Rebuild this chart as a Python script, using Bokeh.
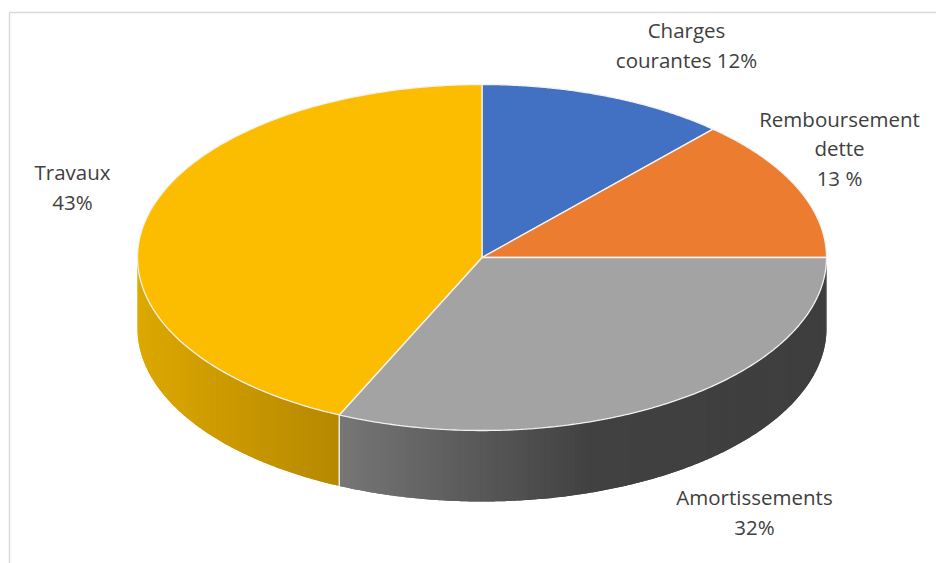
from math import sin, cos, pi
import numpy as np
from bokeh.plotting import figure
from bokeh.models import Range1d, ColumnDataSource
from bokeh.core.properties import value
from bokeh.embed import file_html
from bokeh.resources import INLINE

# --- data ---
categories = ["Charges courantes", "Remboursement dette", "Amortissements", "Travaux"]
# slice sizes (the printed labels are rounded)
shares = [11.7, 13.3, 31.8, 43.2]
top_colors = ["#4270C2", "#EB7C30", "#A3A3A3", "#FCBD00"]
label_lines = [["Charges", "courantes 12%"], ["Remboursement", "dette", "13 %"],
               ["Amortissements", "32%"], ["Travaux", "43%"]]

# --- layout (page pixels) ---
W, H = 936, 563
CX, CY, RX, RY, DEPTH = 481.5, 257.0, 344.5, 173.0, 71.0
label_x = [686, 839, 754, 72]
label_y = [[29, 59], [118, 147, 177], [496, 526], [171, 201]]
side_stops = {
    "Amortissements": [(340, (0x76, 0x76, 0x76)), (470, (0x5A, 0x5A, 0x5A)), (590, (0x41, 0x41, 0x41)), (826, (0x3E, 0x3E, 0x3E))],
    "Travaux": [(137, (0xDC, 0xA8, 0x00)), (340, (0xB6, 0x88, 0x00))],
}

p = figure(width=W, height=H, output_backend="svg", toolbar_location=None,
           x_range=Range1d(0, W), y_range=Range1d(H, 0),
           min_border=0, outline_line_color=None, background_fill_color="white",
           border_fill_color="white")
p.axis.visible = False
p.grid.visible = False

# frame
p.line([9, W], [12, 12], line_color="#D9D9D9", line_width=1.5)
p.line([9, 9], [12, H], line_color="#D9D9D9", line_width=1.5)


def point(frac, dy=0.0):
    t = 2 * pi * frac
    return CX + RX * sin(t), CY - RY * cos(t) + dy


def hexcol(rgb):
    return "#%02X%02X%02X" % tuple(int(round(c)) for c in rgb)


total = float(sum(shares))
edges = np.cumsum([0] + shares) / total

# side wall: strips overlap the next one, which paints over it, so no seams show
xs, ys, cols = [], [], []
for i, name in enumerate(categories):
    if name not in side_stops:
        continue
    a, b = max(edges[i], 0.25), min(edges[i + 1], 0.75)
    stops = side_stops[name]
    sx = [s[0] for s in stops]
    n = int((b - a) * 400) + 1
    fr = np.linspace(a, b, n + 1)
    for j in range(n):
        f0, f1 = fr[j], fr[min(j + 2, n)]
        fm = (fr[j] + fr[j + 1]) / 2
        pts = [point(f) for f in np.linspace(f0, f1, 5)]
        xm = point(fm)[0]
        col = hexcol([np.interp(xm, sx, [s[1][k] for s in stops]) for k in range(3)])
        xs.append([q[0] for q in pts] + [q[0] for q in pts[::-1]])
        ys.append([q[1] for q in pts] + [q[1] + DEPTH for q in pts[::-1]])
        cols.append(col)
p.patches(xs, ys, fill_color=cols, line_color=None)

# pale separator on the wall between the two visible slices
xj, yj = point(edges[3])
p.line([xj, xj], [yj, yj + DEPTH], line_color="#E8E8E8", line_width=1.5)

# top face
for i in range(len(shares)):
    fr = np.linspace(edges[i], edges[i + 1], 160)
    px = [CX] + [point(f)[0] for f in fr]
    py = [CY] + [point(f)[1] for f in fr]
    p.patch(px, py, fill_color=top_colors[i], line_color="#F2F2F2", line_width=1.3)

# labels
tx, ty, tt = [], [], []
for x, yl, ll in zip(label_x, label_y, label_lines):
    for y, s in zip(yl, ll):
        tx.append(x); ty.append(y); tt.append(s)
src = ColumnDataSource(dict(x=tx, y=ty, t=tt))
p.text("x", "y", text="t", source=src, text_font=value("Open Sans"), text_font_size="20.5px",
       text_color="#404040", text_align="center", text_baseline="middle")

open("out.html", "w").write(file_html(p, INLINE))
